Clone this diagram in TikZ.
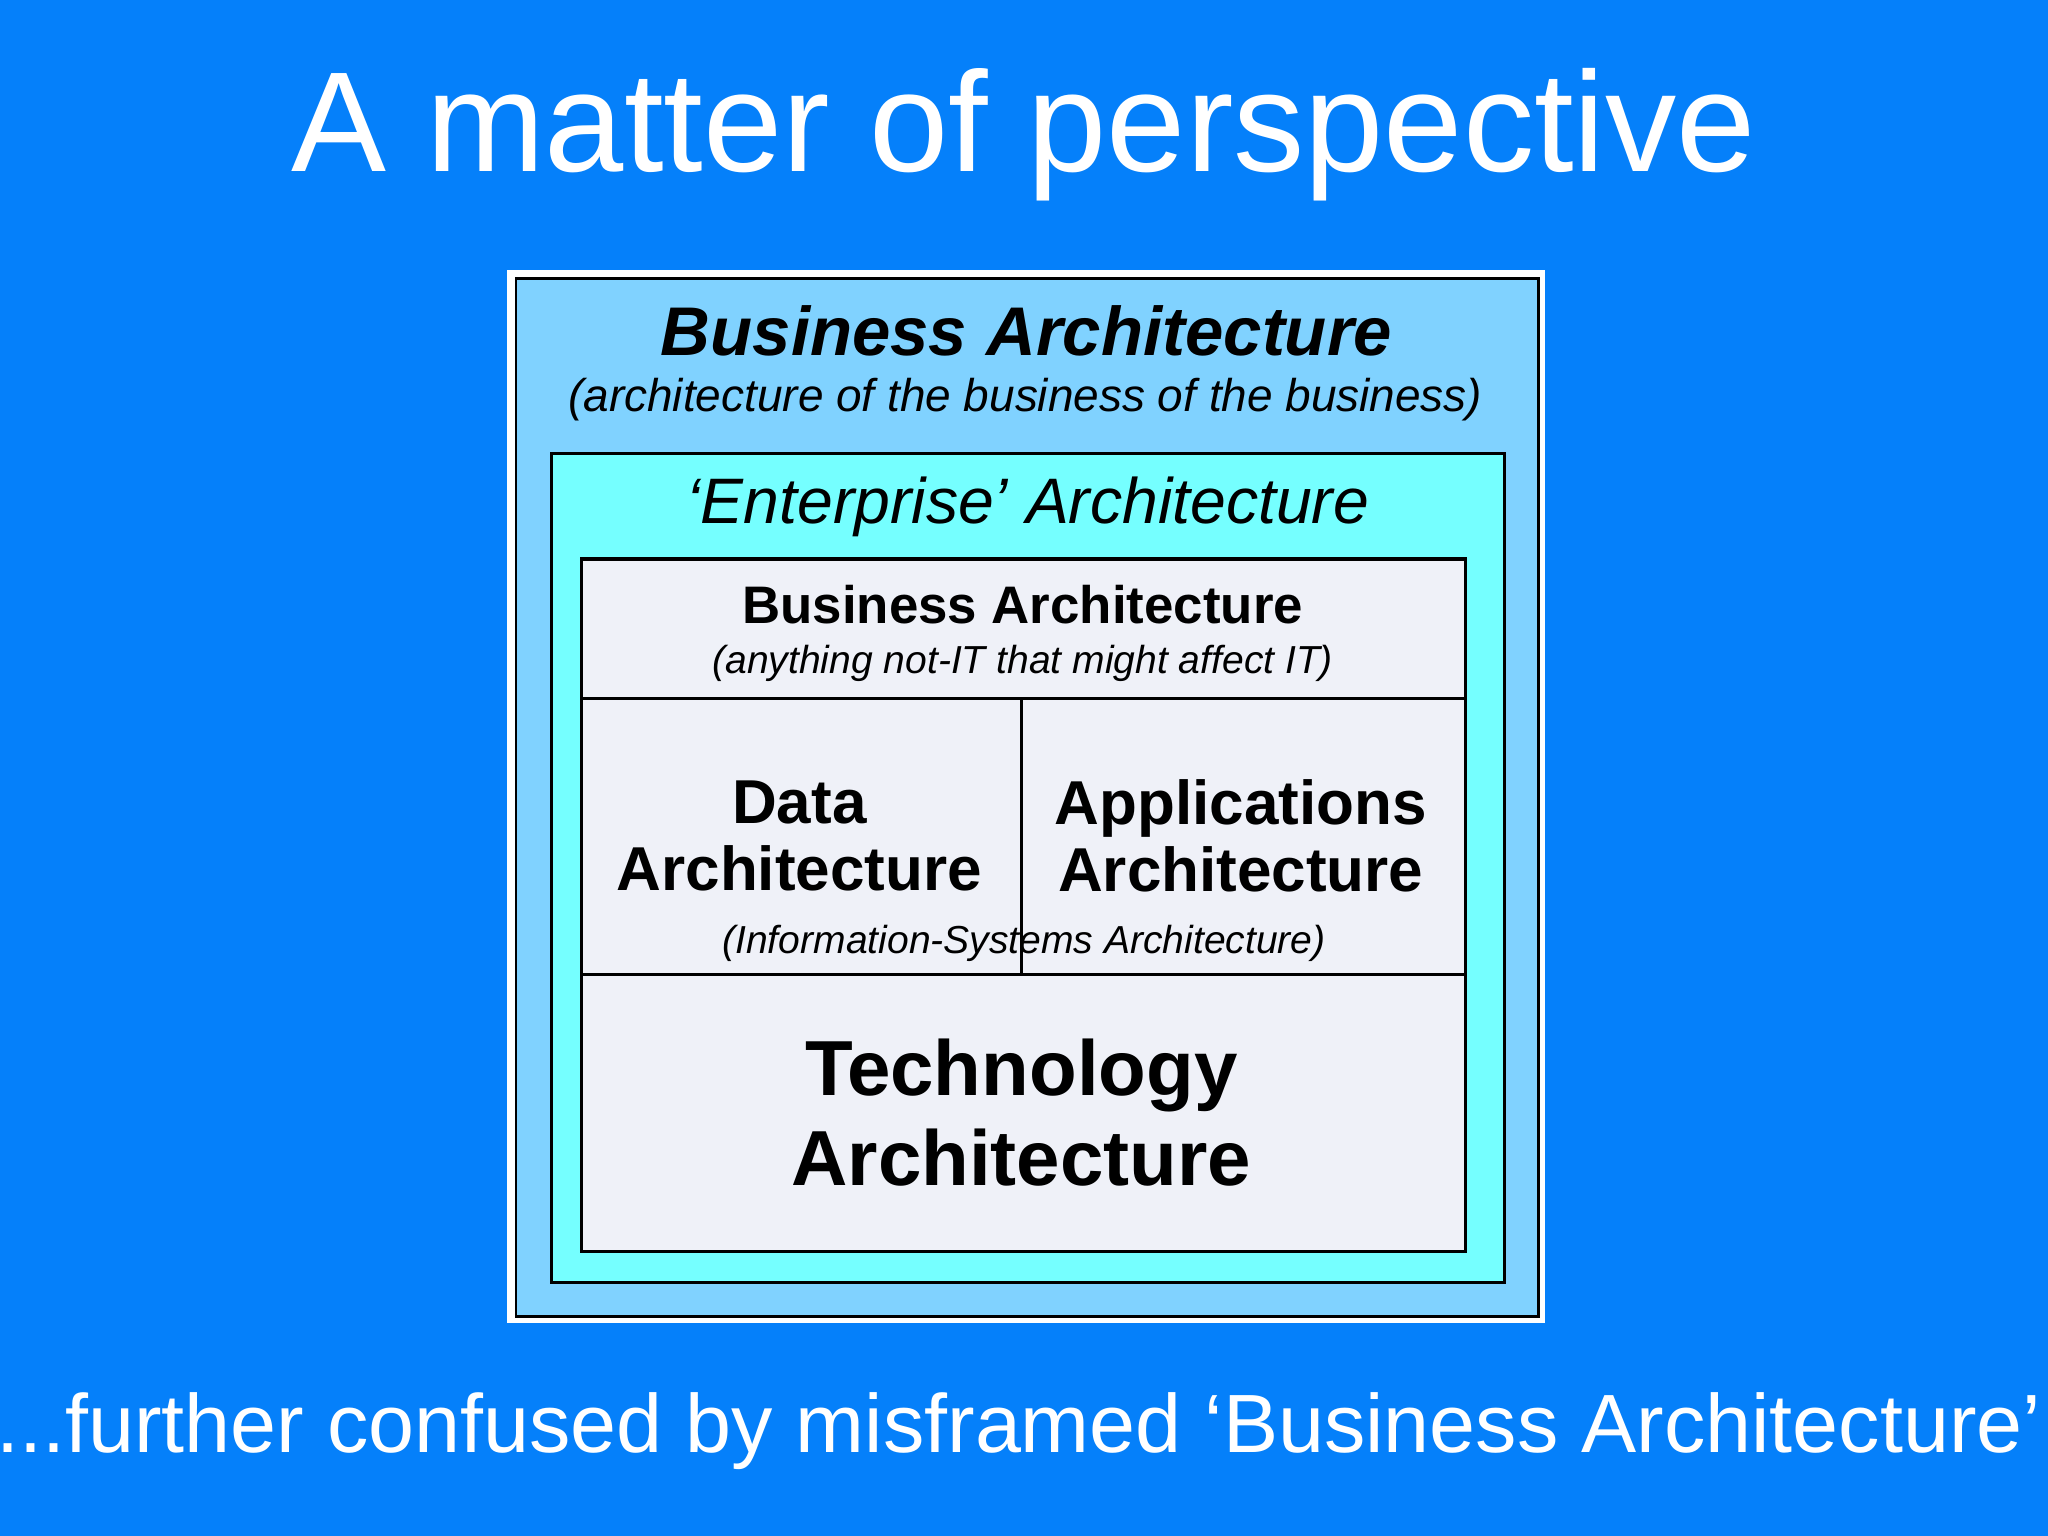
\documentclass[tikz,border=0pt]{standalone}
\usepackage{fontspec}
\setmainfont{Liberation Sans}
\definecolor{bg}{HTML}{0580FA}
\definecolor{lb}{HTML}{80D2FF}
\definecolor{cy}{HTML}{75FFFF}
\definecolor{pale}{HTML}{EFF1F8}
\tikzset{lbl/.style={inner sep=0pt,align=center,text=black}}
\begin{document}
\begin{tikzpicture}[x=0.01cm,y=-0.01cm]
\fill[bg] (0,0) rectangle (1568,1176);
\useasboundingbox (0,0) rectangle (1568,1176);
\node[text=white,inner sep=0pt,font=\fontsize{31}{36}\selectfont] (title) at (784,103) {A matter of perspective};
\fill[white] (388,207) rectangle (1183,1013);
\draw[fill=lb,line width=0.6pt] (395,213) rectangle (1178,1008);
\draw[fill=cy,line width=0.7pt] (422,347) rectangle (1152,982);
\draw[fill=pale,line width=0.7pt] (445,428) rectangle (1122,958);
\draw[line width=0.7pt] (445,535) -- (1122,535) (445,746) -- (1122,746) (782,535) -- (782,746);
\node[lbl,font=\fontsize{15}{18}\selectfont\bfseries\itshape] (ba) at (786,253) {Business Architecture};
\node[lbl,font=\fontsize{10}{12}\selectfont\itshape] (bas) at (785,306) {(architecture of the business of the business)};
\node[lbl,font=\fontsize{14}{16}\selectfont\itshape] (ea) at (787,388) {‘Enterprise’ Architecture};
\node[lbl,font=\fontsize{11.5}{14}\selectfont\bfseries] (iba) at (783,463) {Business Architecture};
\node[lbl,font=\fontsize{8.5}{10}\selectfont\itshape] (ibas) at (783,508) {(anything not-IT that might affect IT)};
\node[lbl,font=\fontsize{13.5}{14.5}\selectfont\bfseries] (da) at (612,640) {Data\\Architecture};
\node[lbl,font=\fontsize{13.5}{14.5}\selectfont\bfseries] (aa) at (950,640) {Applications\\Architecture};
\node[lbl,font=\fontsize{8.5}{10}\selectfont\itshape] (isa) at (784,722) {(Information-Systems Architecture)};
\node[lbl,font=\fontsize{17}{19.5}\selectfont\bfseries] (ta) at (782,852) {Technology\\Architecture};
\node[text=white,inner sep=0pt,font=\fontsize{18}{22}\selectfont] (foot) at (780,1096) {...further confused by misframed ‘Business Architecture’};
\end{tikzpicture}
\end{document}
